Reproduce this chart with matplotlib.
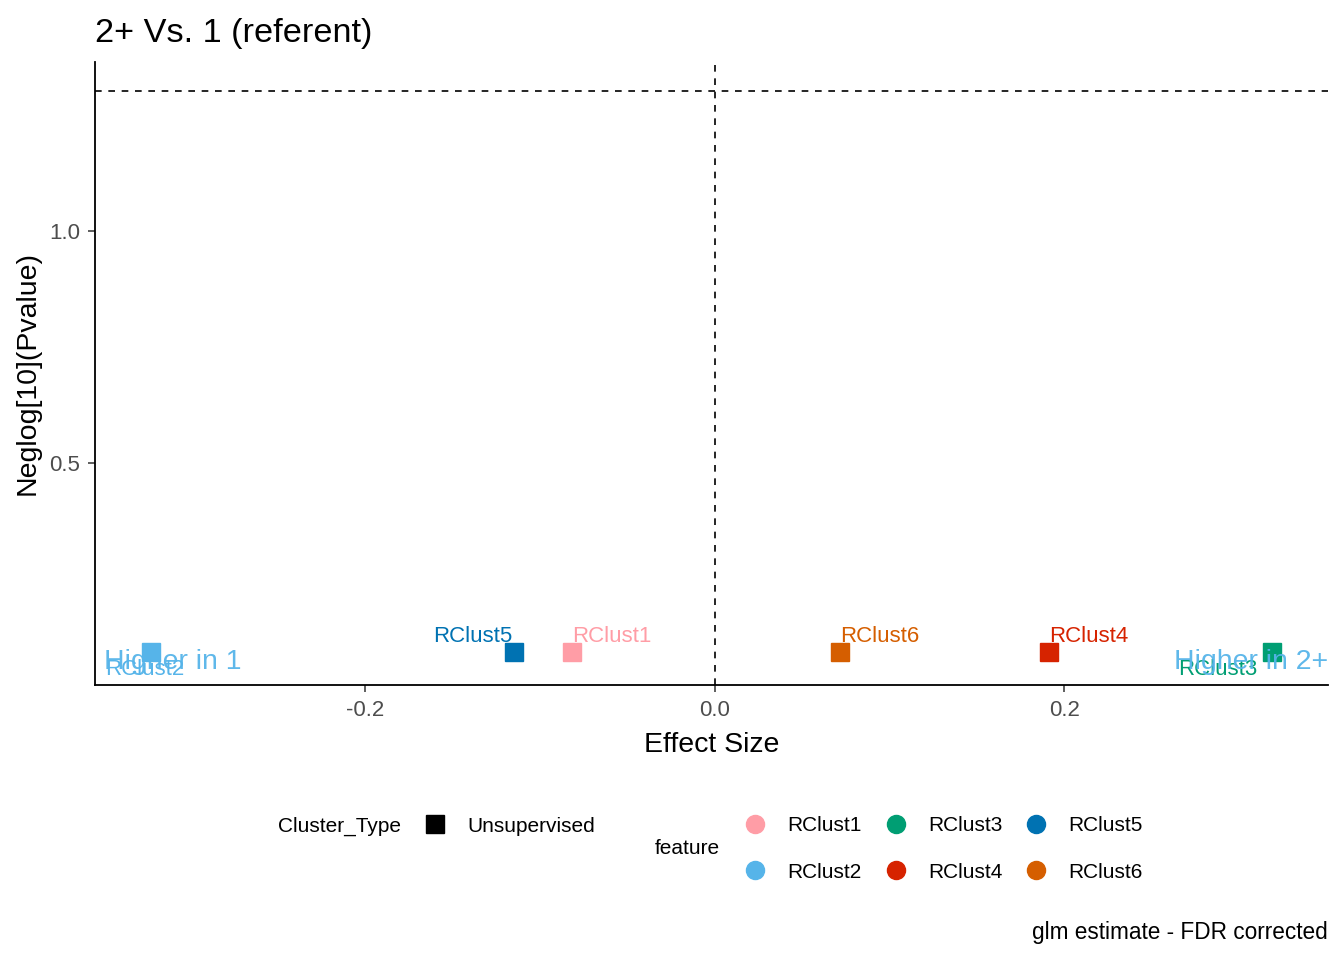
import numpy as np
import matplotlib
matplotlib.use("Agg")
import matplotlib.pyplot as plt
from matplotlib.lines import Line2D

plt.rcParams['font.family'] = ['Liberation Sans', 'DejaVu Sans']

# data
features = ['RClust1', 'RClust2', 'RClust3', 'RClust4', 'RClust5', 'RClust6']
effect = [-0.082, -0.323, 0.319, 0.191, -0.115, 0.0715]
neglog_p = [0.093, 0.093, 0.093, 0.093, 0.093, 0.093]
colors = ['#FF9DA6', '#56B4E9', '#009E73', '#D62300', '#0072B2', '#D55E00']
# label offsets (points) like ggrepel put them
label_dx = [29, -4, -39, 29, -30, 29]
label_dy = [11, -13, -13, 11, 11, 11]

sig_line = -np.log10(0.05)

fig = plt.figure(figsize=(13.44, 9.6), dpi=100)
ax = fig.add_axes([0.0707, 0.2865, 0.9173, 0.6489])

ax.axvline(0, color='black', linestyle=(0, (4, 4)), linewidth=1.2, zorder=1)
ax.axhline(sig_line, color='black', linestyle=(0, (4, 4)), linewidth=1.2, zorder=1)

for f, x, y, c in zip(features, effect, neglog_p, colors):
    ax.plot(x, y, marker='s', markersize=13, color=c, linestyle='none', zorder=3)

for f, x, y, c, dx, dy in zip(features, effect, neglog_p, colors, label_dx, label_dy):
    ax.annotate(f, (x, y), xytext=(dx, dy), textcoords='offset points',
                ha='center', va='center', color=c, fontsize=16, zorder=4)

ax.text(-0.3497, 0.071, 'Higher in 1', color='#56B4E9', fontsize=20.5,
        ha='left', va='center', alpha=0.95, zorder=5)
ax.text(0.3508, 0.071, 'Higher in 2+', color='#56B4E9', fontsize=20.5,
        ha='right', va='center', alpha=0.95, zorder=5)

ax.set_xlim(-0.3548, 0.3508)
ax.set_ylim(0.0216, 1.364)
ax.set_xticks([-0.2, 0.0, 0.2])
ax.set_xticklabels(['-0.2', '0.0', '0.2'])
ax.set_yticks([0.5, 1.0])
ax.set_yticklabels(['0.5', '1.0'])
ax.tick_params(labelsize=16, labelcolor='#4D4D4D', color='#333333', length=5, width=1.1, pad=5.5)
for s in ['top', 'right']:
    ax.spines[s].set_visible(False)
for s in ['left', 'bottom']:
    ax.spines[s].set_linewidth(1.3)

ax.set_xlabel('Effect Size', fontsize=20.5, labelpad=8)
ax.set_ylabel('Neglog[10](Pvalue)', fontsize=20.5, labelpad=6)
fig.text(0.0707, 1 - 42 / 960, '2+ Vs. 1 (referent)', fontsize=24.7, ha='left', va='baseline')

# legends
fig.text(278 / 1344, 1 - 826 / 960, 'Cluster_Type', fontsize=15, ha='left', va='center')
h1 = [Line2D([], [], marker='s', color='black', linestyle='none', markersize=13)]
fig.legend(h1, ['Unsupervised'], loc='center left', bbox_to_anchor=(409 / 1344, 1 - 826 / 960),
           frameon=False, fontsize=15, handletextpad=0.8, borderpad=0, handlelength=1.5)

fig.text(655 / 1344, 1 - 849 / 960, 'feature', fontsize=15, ha='left', va='center')
h2 = [Line2D([], [], marker='o', color=c, linestyle='none', markersize=13) for c in colors]
fig.legend(h2, features, loc='center left', bbox_to_anchor=(729 / 1344, 1 - 849 / 960),
           ncol=3, frameon=False, fontsize=15, handletextpad=0.8, columnspacing=0.88,
           labelspacing=1.32, borderpad=0, handlelength=1.5)

fig.text(1328 / 1344, 1 - 933 / 960, 'glm estimate - FDR corrected', fontsize=16.3,
         ha='right', va='center')

fig.savefig('out.png', dpi=100)
